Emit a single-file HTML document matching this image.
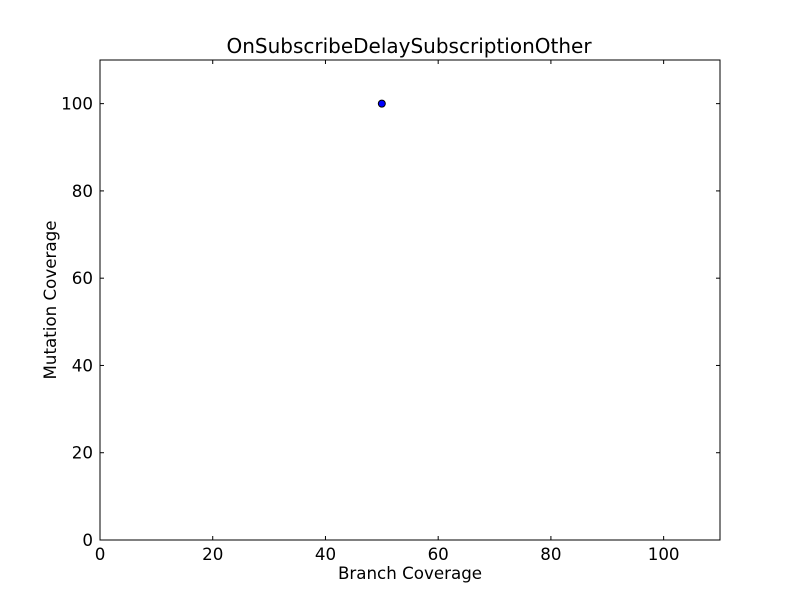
<!DOCTYPE html>
<html><head><meta charset="utf-8"><style>
body{margin:0;background:#fff;}
svg text{font-family:"DejaVu Sans","Liberation Sans",sans-serif;}
</style></head><body>
<svg id="chart" width="800" height="600" xmlns="http://www.w3.org/2000/svg">
<rect width="800" height="600" fill="#fff"/>
<g id="ticks"></g>
<g id="marks"></g>
<rect x="100" y="60" width="620" height="480" fill="none" stroke="#000" stroke-width="1"/>
<text x="409" y="53" font-size="20" text-anchor="middle">OnSubscribeDelaySubscriptionOther</text>
<text x="410" y="579" font-size="16.7" text-anchor="middle">Branch Coverage</text>
<text x="56" y="300" font-size="16.7" text-anchor="middle" transform="rotate(-90 56 300)">Mutation Coverage</text>
</svg>
<script>
const xTicks=[0,20,40,60,80,100];
const yTicks=[0,20,40,60,80,100];
const xValues=[50];
const yValues=[100];
const L=100,R=720,T=60,B=540,XMAX=110,YMAX=110;
const sx=v=>L+v/XMAX*(R-L);
const sy=v=>B-v/YMAX*(B-T);
const NS="http://www.w3.org/2000/svg";
const tg=document.getElementById('ticks');
function mk(tag,attrs,parent){const e=document.createElementNS(NS,tag);for(const k in attrs)e.setAttribute(k,attrs[k]);parent.appendChild(e);return e;}
xTicks.forEach(v=>{
  const x=sx(v);
  mk('line',{x1:x,x2:x,y1:B,y2:B-4,stroke:'#000'},tg);
  mk('line',{x1:x,x2:x,y1:T,y2:T+4,stroke:'#000'},tg);
  const t=mk('text',{x:x,y:B+20,'font-size':16.7,'text-anchor':'middle'},tg);
  t.textContent=v;
  
  
});
yTicks.forEach(v=>{
  const y=sy(v);
  mk('line',{x1:L,x2:L+4,y1:y,y2:y,stroke:'#000'},tg);
  mk('line',{x1:R,x2:R-4,y1:y,y2:y,stroke:'#000'},tg);
  const t=mk('text',{x:L-7,y:y+6,'font-size':16.7,'text-anchor':'end'},tg);
  t.textContent=v;
  
  
});
const mg=document.getElementById('marks');
xValues.forEach((v,i)=>{
  const c=mk('circle',{cx:sx(v),cy:sy(yValues[i]),r:3.5,fill:'#0000ff',stroke:'#000','stroke-width':1},mg);
  
  
});
</script>
</body></html>
